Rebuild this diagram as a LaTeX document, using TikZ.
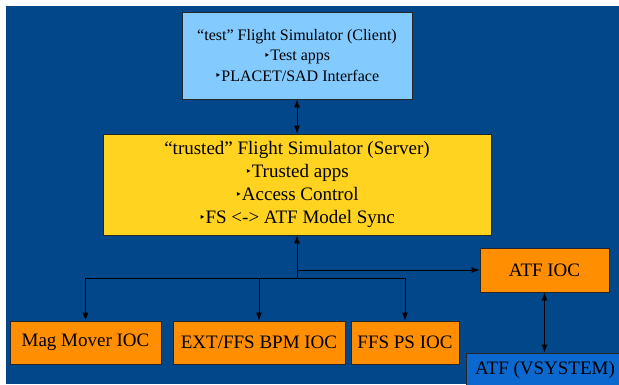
\documentclass[tikz,border=0pt]{standalone}
\usepackage{fontspec}
\setmainfont{Liberation Serif}
\newfontfamily\dejavu{DejaVu Sans}
\usetikzlibrary{arrows.meta}
\definecolor{bgblue}{HTML}{02478A}
\definecolor{clientblue}{HTML}{83CAFF}
\definecolor{serveryellow}{HTML}{FFD320}
\definecolor{iocorange}{HTML}{FF8E00}
\definecolor{vsysblue}{HTML}{0A68CE}
\newcommand\bul{\raisebox{0.12em}{\dejavu\fontsize{11}{11}\selectfont ‣}}
\tikzset{
  box/.style={draw=black!85, line width=0.9pt, rectangle, inner sep=0pt, align=center, text=black},
  conn/.style={draw=black, line width=0.9pt},
  arr/.style={-{Latex[length=8pt,width=6pt]}},
  darr/.style={{Latex[length=8pt,width=6pt]}-{Latex[length=8pt,width=6pt]}}
}
\begin{document}
\begin{tikzpicture}[x=1pt,y=-1pt]
\useasboundingbox (0,0) rectangle (619,384);
\fill[white] (0,0) rectangle (619,384);
\fill[bgblue] (6,6) rectangle (619,384);
\begin{scope}
\clip (0,0) rectangle (619,384);
\node[box, fill=clientblue, minimum width=230pt, minimum height=87pt, font=\fontsize{16}{20.5}\selectfont] (client) at (297,55.5)
  {“test” Flight Simulator (Client)\\\bul Test apps\\\bul PLACET/SAD Interface};
\node[box, fill=serveryellow, minimum width=388pt, minimum height=101pt, font=\fontsize{19}{23.3}\selectfont] (server) at (297,184.5)
  {“trusted” Flight Simulator (Server)\\\bul Trusted apps\\\bul Access Control\\\bul FS <-> ATF Model Sync};
\node[box, fill=iocorange, minimum width=151pt, minimum height=43pt, font=\fontsize{19}{23}\selectfont] (mag) at (85.5,342.5) {Mag Mover IOC};
\node[box, fill=iocorange, minimum width=172pt, minimum height=43pt, font=\fontsize{19}{23}\selectfont] (ext) at (259,342.5) {EXT/FFS BPM IOC};
\node[box, fill=iocorange, minimum width=108pt, minimum height=43pt, font=\fontsize{19}{23}\selectfont] (ffs) at (405,342.5) {FFS PS IOC};
\node[box, fill=iocorange, minimum width=129pt, minimum height=44pt, font=\fontsize{19}{23}\selectfont] (atfioc) at (544.5,270) {ATF IOC};
\node[box, fill=vsysblue, minimum width=158pt, minimum height=34pt, font=\fontsize{19}{23}\selectfont] (vsys) at (545,370) {ATF (VSYSTEM)};
\end{scope}
\coordinate (j1) at (297,278);
\coordinate (j2) at (297,270);
\draw[conn, darr] (client.south) -- (server.north);
\draw[conn, arr] (j1) -- (server.south);
\draw[conn, arr] (j2) -- (atfioc.west);
\draw[conn, arr] (j1) -| (mag.north);
\draw[conn, arr] (j1) -| (ext.north);
\draw[conn, arr] (j1) -| (ffs.north);
\draw[conn, darr] (atfioc.south) -- (atfioc.south |- vsys.north);
\end{tikzpicture}
\end{document}
